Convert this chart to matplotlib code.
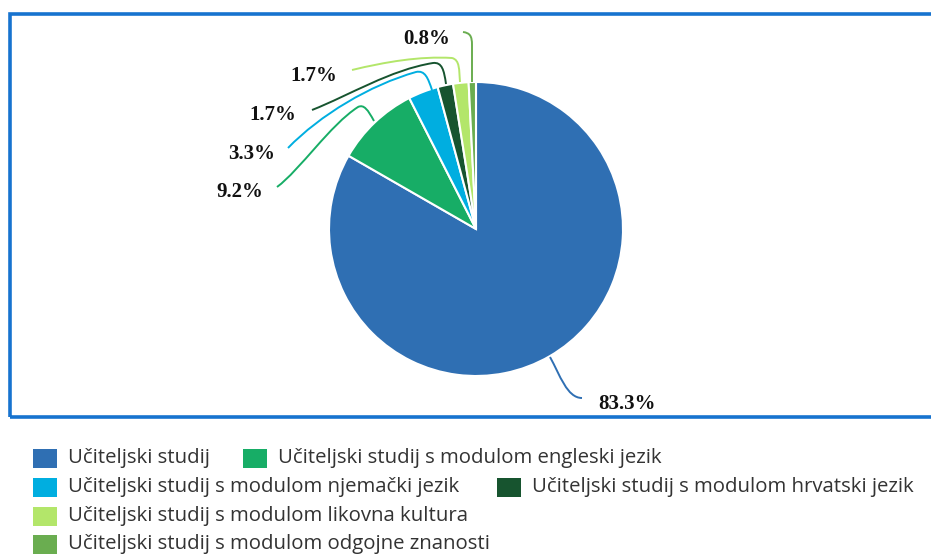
import matplotlib
matplotlib.use("Agg")
import matplotlib.pyplot as plt
from matplotlib.patches import Rectangle, PathPatch
from matplotlib.path import Path
import numpy as np

categories = [
    "Učiteljski studij",
    "Učiteljski studij s modulom engleski jezik",
    "Učiteljski studij s modulom njemački jezik",
    "Učiteljski studij s modulom hrvatski jezik",
    "Učiteljski studij s modulom likovna kultura",
    "Učiteljski studij s modulom odgojne znanosti",
]
values = [83.3, 9.2, 3.3, 1.7, 1.7, 0.8]
labels = ["83.3%", "9.2%", "3.3%", "1.7%", "1.7%", "0.8%"]
colors = ["#2F6FB3", "#17AD66", "#00AEE0", "#17542F", "#B3E66A", "#6AAD50"]

W, H = 931, 558
fig = plt.figure(figsize=(W / 100, H / 100), dpi=100)
ax = fig.add_axes([0, 0, 1, 1])

def Y(y):
    return H - y

cx, cy, r = 476, 229, 147
ax.pie(values, colors=colors, startangle=90, counterclock=False,
       center=(cx, Y(cy)), radius=r,
       wedgeprops=dict(edgecolor="white", linewidth=1.5))
ax.set_xlim(0, W)
ax.set_ylim(0, H)
ax.set_aspect("auto")
ax.axis("off")

# border box
ax.add_patch(Rectangle((9.5, Y(416.5)), W + 20, 416.5 - 13.5, fill=False,
                       edgecolor="#1773CF", linewidth=2.6, zorder=0))

# leader lines (image coordinates)
leaders = [
    [(550, 357), (560, 375), (567, 398), (582, 398)],
    [(374, 121), (368, 110), (364, 104), (358, 107), (330, 125), (300, 170), (277, 187)],
    [(432, 90), (428, 78), (425, 70), (416, 72), (370, 85), (320, 115), (288, 148)],
    [(446, 84), (444, 70), (442, 62), (433, 63), (390, 70), (350, 95), (312, 110)],
    [(460, 82), (459, 70), (460, 60), (452, 58), (420, 56), (385, 62), (352, 70)],
    [(472, 82), (472, 60), (472, 50), (472, 45), (472, 36), (470, 33), (463, 32)],
]
label_pos = [(598, 404, "left"), (263, 192, "right"), (275, 154, "right"),
             (296, 115, "right"), (337, 76, "right"), (450, 39, "right")]

for pts, col, lab, (lx, ly, ha) in zip(leaders, colors, labels, label_pos):
    verts = [(x, Y(y)) for x, y in pts]
    codes = [Path.MOVETO] + [Path.CURVE4] * (len(verts) - 1)
    ax.add_patch(PathPatch(Path(verts, codes), fill=False, edgecolor=col,
                           linewidth=1.4, zorder=3))
    ax.text(lx, Y(ly), lab, ha=ha, va="center", fontsize=15,
            fontweight="bold", family="Liberation Serif", color="#111111")

# legend
leg_pos = [(33, 458), (243, 458), (33, 487), (497, 487), (33, 516), (33, 544)]
for (lx, ly), col, name in zip(leg_pos, colors, categories):
    ax.add_patch(Rectangle((lx, Y(ly + 9.5)), 24, 19, facecolor=col,
                           edgecolor="none"))
    ax.text(lx + 35, Y(ly), name, ha="left", va="center", fontsize=14.7,
            family="Open Sans", color="#333333")

fig.savefig("out.png", dpi=100)
